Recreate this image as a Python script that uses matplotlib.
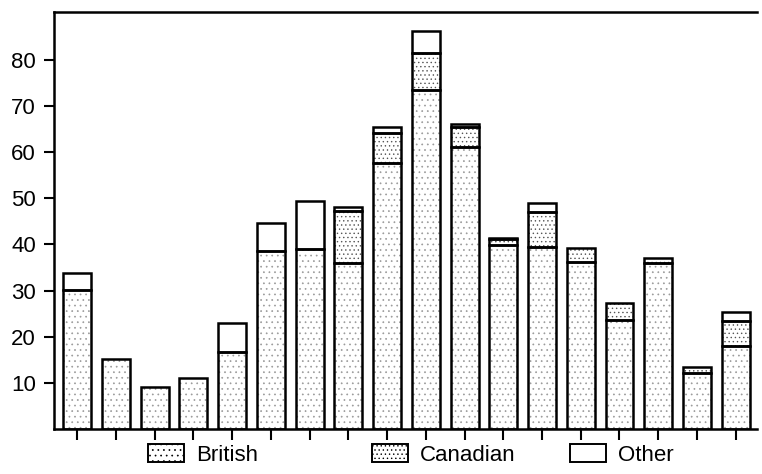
import matplotlib
matplotlib.use("Agg")
import matplotlib.pyplot as plt
from matplotlib.patches import Patch
from matplotlib import font_manager
import numpy as np

names = {f.name for f in font_manager.fontManager.ttflist}
fam = 'Liberation Sans Narrow' if 'Liberation Sans Narrow' in names else 'Liberation Sans'
plt.rcParams['font.family'] = [fam, 'DejaVu Sans']
plt.rcParams['hatch.linewidth'] = 0.5

categories = list(range(1, 19))
british = [30.1, 15.1, 9.1, 11.0, 16.7, 38.6, 39.0, 36.0, 57.7, 73.5, 61.1, 39.9, 39.4, 36.2, 23.6, 36.0, 12.1, 18.0]
canadian = [0, 0, 0, 0, 0, 0, 0, 11.2, 6.5, 8.0, 4.4, 1.3, 7.6, 3.0, 3.7, 1.0, 1.3, 5.4]
other = [3.7, 0, 0, 0, 6.3, 6.0, 10.4, 0.9, 1.3, 4.8, 0.6, 0.3, 2.0, 0, 0, 0, 0, 2.0]
yticks = [10, 20, 30, 40, 50, 60, 70, 80]
series_names = ["British", "Canadian", "Other"]

x = np.arange(len(categories))
british = np.array(british)
canadian = np.array(canadian)
other = np.array(other)

fig = plt.figure(figsize=(7.62, 4.74), dpi=100)
ax = fig.add_axes([54/762, 1-429/474, (757-54)/762, (429-12)/474])

w = 0.72
ax.bar(x, british, width=w, color='white', edgecolor='#9a9a9a', hatch='...', linewidth=0)
ax.bar(x, canadian, width=w, bottom=british, color='white', edgecolor='#555555', hatch='....', linewidth=0)
ax.bar(x, other, width=w, bottom=british + canadian, color='white', edgecolor='black', linewidth=0)
for vals, bot in [(british, np.zeros_like(british)), (canadian, british), (other, british + canadian)]:
    mask = vals > 0
    ax.bar(x[mask], vals[mask], width=w, bottom=bot[mask],
           fill=False, edgecolor='black', linewidth=1.8)

ax.set_xlim(-0.6, 17.55)
ax.set_ylim(0, 90.4)
ax.set_yticks(yticks)
ax.set_xticks(x)
ax.set_xticklabels([])
ax.tick_params(axis='y', length=7, width=1.5, pad=6, labelsize=16)
ax.tick_params(axis='x', length=8, width=1.5, direction='out')
ax.spines['right'].set_visible(False)
for s in ['left', 'top', 'bottom']:
    ax.spines[s].set_linewidth(1.8)

handles = [
    Patch(facecolor='white', edgecolor='black', hatch='...', linewidth=1.4),
    Patch(facecolor='white', edgecolor='black', hatch='....', linewidth=1.4),
    Patch(facecolor='white', edgecolor='black', linewidth=1.4),
]
xs = [148, 372, 570]
for h, name, xp in zip(handles, series_names, xs):
    fig.legend([h], [name], loc='center left', bbox_to_anchor=(xp/762, 1-455/474),
               frameon=False, fontsize=16, handlelength=1.6, handleheight=0.85,
               handletextpad=0.55, borderpad=0, borderaxespad=0)

fig.savefig("out.png", dpi=100)
